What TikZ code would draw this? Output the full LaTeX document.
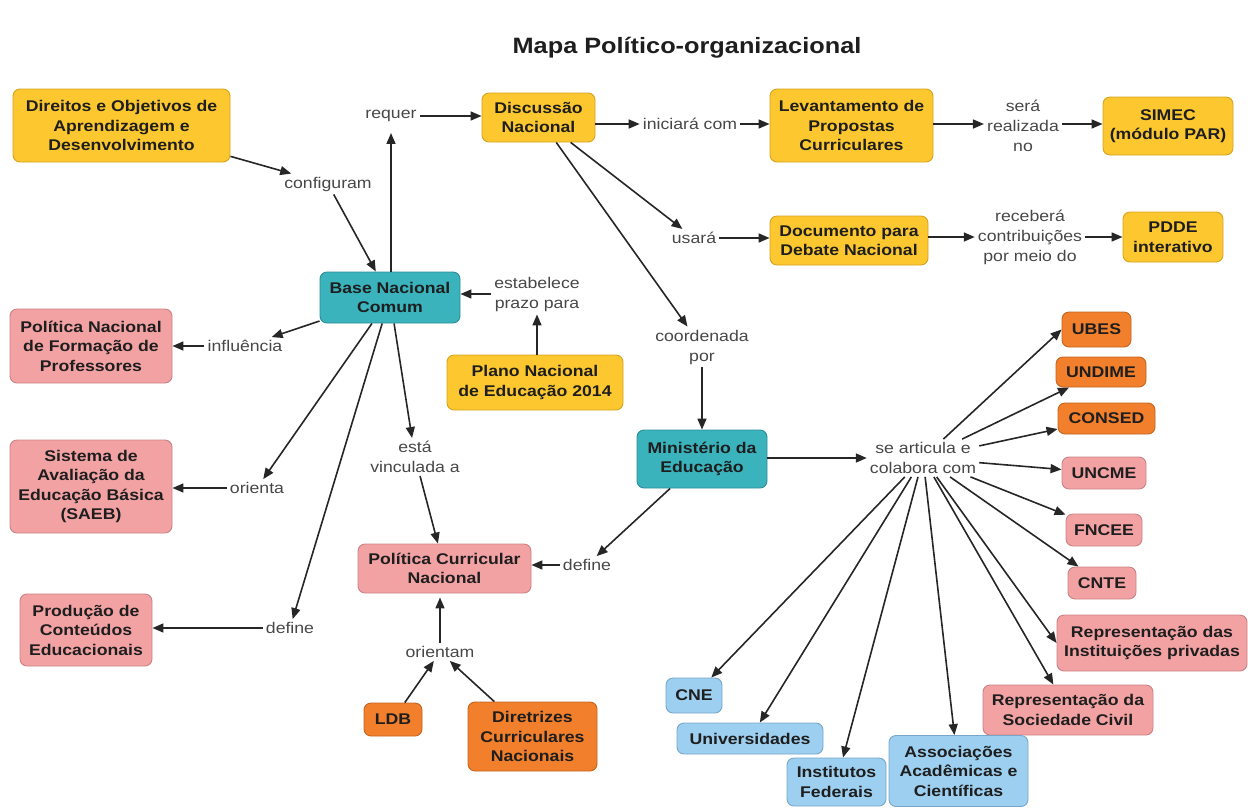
\documentclass[tikz,border=0pt]{standalone}
\usepackage{fontspec}
\setmainfont{Liberation Sans}[FakeStretch=1.14]
\usetikzlibrary{arrows.meta}
\definecolor{cyel}{HTML}{FDC82F}
\definecolor{cyelD}{HTML}{D6A21E}
\definecolor{cteal}{HTML}{3AB3BD}
\definecolor{ctealD}{HTML}{2A8E98}
\definecolor{cpink}{HTML}{F3A2A4}
\definecolor{cpinkD}{HTML}{C98285}
\definecolor{corg}{HTML}{F17F2C}
\definecolor{corgD}{HTML}{C5651E}
\definecolor{cblu}{HTML}{9DCFF0}
\definecolor{cbluD}{HTML}{78A6C8}
\definecolor{ctxt}{HTML}{1E1E1E}
\definecolor{clbl}{HTML}{474747}
\definecolor{cline}{HTML}{262626}
\begin{document}
\begin{tikzpicture}[x=1pt,y=-1pt,
  box/.style={rounded corners=7pt, line width=0.9pt, align=center, inner sep=2pt, text=ctxt,
    font=\fontsize{15.5}{19.5}\selectfont\bfseries},
  yel/.style={box, fill=cyel, draw=cyelD},
  tea/.style={box, fill=cteal, draw=ctealD},
  pnk/.style={box, fill=cpink, draw=cpinkD},
  org/.style={box, fill=corg, draw=corgD},
  blu/.style={box, fill=cblu, draw=cbluD},
  sz/.style 2 args={minimum width=#1pt, minimum height=#2pt},
  lbl/.style={align=center, inner sep=3pt, text=clbl, font=\fontsize{15.5}{20}\selectfont},
  arr/.style={draw=cline, line width=1.6pt, -{Triangle[length=11pt,width=9pt]}}
]
\useasboundingbox (0,0) rectangle (1248,807);

\node[text=ctxt, font=\fontsize{22.2}{26}\selectfont\bfseries] (title) at (687,48) {Mapa Político-organizacional};

% boxes
\node[yel, sz={217}{73}] (dir) at (121.5,125.5) {Direitos e Objetivos de\\Aprendizagem e\\Desenvolvimento};
\node[yel, sz={113}{49}] (disc) at (538.5,117.5) {Discussão\\Nacional};
\node[yel, sz={163}{73}] (lev) at (851.5,125.5) {Levantamento de\\Propostas\\Curriculares};
\node[yel, sz={130}{58}] (simec) at (1168,126) {SIMEC\\(módulo PAR)};
\node[yel, sz={158}{49}] (doc) at (849,240.5) {Documento para\\Debate Nacional};
\node[yel, sz={100}{50}] (pdde) at (1173,237) {PDDE\\interativo};
\node[tea, sz={140}{51}] (base) at (390,297.5) {Base Nacional\\Comum};
\node[yel, sz={176}{55}] (plano) at (535,382.5) {Plano Nacional\\de Educação 2014};
\node[pnk, sz={162}{74}] (pnfp) at (91,346) {Política Nacional\\de Formação de\\Professores};
\node[pnk, sz={162}{93}] (saeb) at (91,486.5) {Sistema de\\Avaliação da\\Educação Básica\\(SAEB)};
\node[tea, sz={130}{58}] (mec) at (702,459) {Ministério da\\Educação};
\node[pnk, sz={173}{49}] (pcn) at (444.5,568.5) {Política Curricular\\Nacional};
\node[pnk, sz={132}{72}] (prod) at (86,630) {Produção de\\Conteúdos\\Educacionais};
\node[org, sz={58}{33}] (ldb) at (393,719.5) {LDB};
\node[org, sz={129}{69}] (dcn) at (532.5,736.5) {Diretrizes\\Curriculares\\Nacionais};
\node[org, sz={69}{35}] (ubes) at (1096.5,329.5) {UBES};
\node[org, sz={90}{30}] (undime) at (1101,372) {UNDIME};
\node[org, sz={97}{31}] (consed) at (1106.5,418.5) {CONSED};
\node[pnk, sz={84}{32}] (uncme) at (1104,473) {UNCME};
\node[pnk, sz={76}{32}] (fncee) at (1104,530) {FNCEE};
\node[pnk, sz={68}{32}] (cnte) at (1102,583) {CNTE};
\node[pnk, sz={190}{56}] (repinst) at (1152,643) {Representação das\\Instituições privadas};
\node[pnk, sz={170}{50}] (repsoc) at (1068,710) {Representação da\\Sociedade Civil};
\node[blu, sz={56}{35}] (cne) at (694,695.5) {CNE};
\node[blu, sz={146}{31}] (univ) at (750,738.5) {Universidades};
\node[blu, sz={99}{48}] (inst) at (836.5,782) {Institutos\\Federais};
\node[blu, sz={139}{71}] (assoc) at (958.5,771) {Associações\\Acadêmicas e\\Científicas};

% labels
\node[lbl] (req) at (391,116) {requer};
\node[lbl] (conf) at (328,184) {configuram};
\node[lbl] (ini) at (690,124) {iniciará com};
\node[lbl] (ser) at (1023,126) {será\\realizada\\no};
\node[lbl] (usa) at (694,238) {usará};
\node[lbl] (rec) at (1030,237) {receberá\\contribuições\\por meio do};
\node[lbl] (estab) at (537,294) {estabelece\\prazo para};
\node[lbl] (infl) at (245,346) {influência};
\node[lbl] (ori) at (257,488) {orienta};
\node[lbl] (vinc) at (415,457) {está\\vinculada a};
\node[lbl] (coord) at (702,347) {coordenada\\por};
\node[lbl] (art) at (923,458) {se articula e\\colabora com};
\node[lbl] (defc) at (587,565) {define};
\node[lbl] (defp) at (290,628) {define};
\node[lbl] (orim) at (440,652) {orientam};

% connectors
\draw[arr] (dir) -- (conf);
\draw[arr] (conf) -- (base);
\draw[arr, shorten >=8pt] (base.north -| req) -- (req);
\draw[arr] (req) -- (req -| disc.west);
\draw[arr] (disc.east |- ini) -- (ini);
\draw[arr] (ini) -- (ini -| lev.west);
\draw[arr] (lev.east |- ini) -- (ser.west |- ini);
\draw[arr] (ser.east |- ini) -- (simec.west |- ini);
\draw[arr] (disc) -- (usa);
\draw[arr] (usa) -- (usa -| doc.west);
\draw[arr] (doc.east |- rec) -- (rec);
\draw[arr] (rec) -- (rec -| pdde.west);
\draw[arr] (disc) -- (coord);
\draw[arr] (coord) -- (coord |- mec.north);
\draw[arr] (plano.north -| estab) -- (estab);
\draw[arr] (estab) -- (estab -| base.east);
\draw[arr] (base) -- (infl);
\draw[arr] (infl) -- (infl -| pnfp.east);
\draw[arr] (base) -- (ori);
\draw[arr] (ori) -- (ori -| saeb.east);
\draw[arr] (base) -- (defp);
\draw[arr] (defp) -- (defp -| prod.east);
\draw[arr] (base) -- (vinc);
\draw[arr] (vinc) -- (pcn);
\draw[arr] (mec) -- (defc);
\draw[arr] (defc) -- (defc -| pcn.east);
\draw[arr, shorten >=4pt] (orim) -- (orim |- pcn.south);
\draw[arr] (ldb) -- (orim);
\draw[arr] (dcn) -- (orim);
\draw[arr] (mec.east |- art) -- (art);
\foreach \t in {undime,consed,uncme,fncee,cnte,repsoc,assoc,inst,univ,cne}
  \draw[arr] (art) -- (\t);
\draw[arr] (art) -- (ubes.west);
\draw[arr] (art) -- (repinst.west);
\end{tikzpicture}
\end{document}
